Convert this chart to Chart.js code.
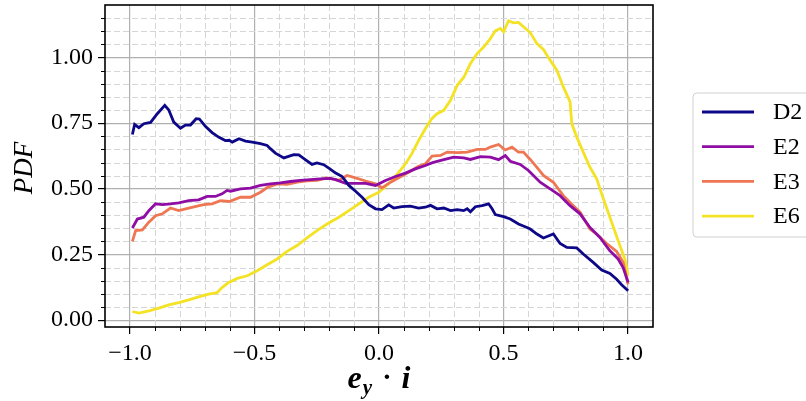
<!DOCTYPE html>
<html>
<head>
<meta charset="utf-8">
<script src="https://cdn.jsdelivr.net/npm/chart.js@4/dist/chart.umd.min.js"></script>
<style>
  html, body { margin: 0; padding: 0; background: #fff; }
</style>
</head>
<body>
<canvas id="myChart" width="806" height="401"></canvas>
<script>
// values (x = e_y . i, y = PDF)
var d2X = [-0.99,-0.981,-0.964,-0.944,-0.917,-0.89,-0.86,-0.844,-0.824,-0.797,-0.777,-0.757,-0.734,-0.721,-0.697,-0.67,-0.644,-0.617,-0.601,-0.589,-0.562,-0.536,-0.509,-0.476,-0.449,-0.436,-0.416,-0.382,-0.342,-0.322,-0.296,-0.269,-0.249,-0.222,-0.2,-0.174,-0.148,-0.121,-0.094,-0.068,-0.041,-0.014,0.012,0.039,0.059,0.092,0.126,0.159,0.186,0.207,0.233,0.26,0.287,0.314,0.34,0.354,0.367,0.387,0.414,0.44,0.454,0.467,0.5,0.527,0.56,0.594,0.607,0.634,0.66,0.7,0.727,0.754,0.794,0.82,0.86,0.894,0.927,0.954,0.974,1.0];
var d2Y = [0.707,0.745,0.733,0.748,0.753,0.786,0.818,0.80,0.754,0.731,0.743,0.743,0.767,0.766,0.738,0.714,0.697,0.684,0.685,0.678,0.691,0.682,0.678,0.672,0.665,0.653,0.636,0.618,0.63,0.629,0.611,0.593,0.599,0.592,0.578,0.56,0.547,0.513,0.491,0.468,0.44,0.424,0.421,0.439,0.427,0.432,0.434,0.427,0.43,0.437,0.424,0.427,0.417,0.421,0.417,0.424,0.413,0.432,0.436,0.443,0.424,0.402,0.394,0.385,0.366,0.353,0.347,0.328,0.313,0.328,0.292,0.277,0.275,0.252,0.22,0.191,0.178,0.156,0.135,0.112];

var e2X = [-0.99,-0.97,-0.944,-0.924,-0.897,-0.87,-0.837,-0.804,-0.764,-0.724,-0.69,-0.657,-0.63,-0.61,-0.596,-0.556,-0.516,-0.476,-0.436,-0.396,-0.356,-0.316,-0.276,-0.236,-0.196,-0.174,-0.134,-0.094,-0.054,-0.014,0.026,0.066,0.106,0.146,0.186,0.215,0.26,0.3,0.34,0.367,0.407,0.447,0.48,0.507,0.527,0.567,0.6,0.647,0.687,0.727,0.767,0.807,0.847,0.887,0.927,0.96,0.98,1.0];
var e2Y = [0.351,0.385,0.392,0.417,0.443,0.44,0.443,0.447,0.455,0.458,0.471,0.471,0.481,0.494,0.491,0.5,0.503,0.513,0.519,0.523,0.528,0.532,0.535,0.538,0.54,0.535,0.521,0.521,0.521,0.513,0.532,0.547,0.56,0.576,0.589,0.60,0.611,0.621,0.618,0.612,0.623,0.621,0.611,0.627,0.605,0.593,0.57,0.525,0.5,0.474,0.436,0.405,0.353,0.315,0.264,0.233,0.2,0.144];

var e3X = [-0.99,-0.977,-0.95,-0.924,-0.897,-0.87,-0.837,-0.804,-0.764,-0.73,-0.704,-0.67,-0.637,-0.601,-0.556,-0.516,-0.476,-0.449,-0.409,-0.369,-0.329,-0.289,-0.249,-0.209,-0.188,-0.161,-0.128,-0.094,-0.054,-0.014,0.012,0.039,0.079,0.119,0.159,0.186,0.213,0.247,0.274,0.314,0.354,0.394,0.427,0.447,0.48,0.507,0.534,0.56,0.58,0.607,0.634,0.66,0.7,0.74,0.78,0.807,0.847,0.874,0.914,0.954,0.98,1.0];
var e3Y = [0.30,0.341,0.344,0.373,0.398,0.405,0.427,0.417,0.427,0.434,0.44,0.443,0.455,0.452,0.468,0.468,0.487,0.505,0.519,0.517,0.526,0.53,0.532,0.542,0.538,0.532,0.551,0.542,0.53,0.519,0.504,0.521,0.542,0.563,0.586,0.595,0.625,0.627,0.64,0.638,0.64,0.65,0.65,0.659,0.669,0.648,0.659,0.64,0.64,0.612,0.582,0.551,0.525,0.474,0.436,0.411,0.347,0.328,0.292,0.262,0.22,0.137];

var e6X = [-0.99,-0.964,-0.924,-0.884,-0.844,-0.804,-0.764,-0.724,-0.684,-0.65,-0.63,-0.605,-0.569,-0.529,-0.489,-0.449,-0.409,-0.369,-0.329,-0.289,-0.249,-0.209,-0.161,-0.121,-0.081,-0.041,-0.001,0.026,0.052,0.079,0.106,0.132,0.159,0.186,0.21,0.233,0.26,0.287,0.314,0.34,0.367,0.394,0.42,0.447,0.467,0.487,0.5,0.52,0.54,0.56,0.58,0.607,0.634,0.66,0.687,0.714,0.74,0.767,0.774,0.794,0.82,0.847,0.874,0.894,0.927,0.96,0.987,1.0];
var e6Y = [0.033,0.027,0.035,0.046,0.058,0.067,0.077,0.089,0.099,0.105,0.124,0.143,0.159,0.169,0.188,0.211,0.233,0.262,0.284,0.313,0.341,0.366,0.392,0.417,0.443,0.468,0.487,0.509,0.532,0.563,0.595,0.634,0.684,0.729,0.765,0.786,0.799,0.837,0.894,0.924,0.977,1.015,1.04,1.072,1.102,1.111,1.098,1.14,1.132,1.134,1.117,1.095,1.053,1.031,0.99,0.952,0.888,0.831,0.748,0.697,0.64,0.582,0.538,0.481,0.392,0.303,0.233,0.17];

var seriesNames = ['D2', 'E2', 'E3', 'E6'];
var seriesColors = ['#0d0887', '#8f0da4', '#ee7652', '#f4e225'];

var FONT = "'Liberation Serif', 'DejaVu Serif', serif";

function toPoints(xs, ys) {
    return xs.map(function (x, i) { return { x: x, y: ys[i] }; });
}
var allX = [d2X, e2X, e3X, e6X];
var allY = [d2Y, e2Y, e3Y, e6Y];

var datasets = seriesNames.map(function (name, i) {
    return {
        label: name,
        data: toPoints(allX[i], allY[i]),
        borderColor: seriesColors[i],
        backgroundColor: seriesColors[i],
        borderWidth: 2.8,
        pointRadius: 0,
        tension: 0
    };
});

function fmtX(v) {
    var s = Math.abs(v).toFixed(1);
    return (v < -1e-9 ? '\u2212' : '') + s;
}

// minor grid (dashed), minor ticks, frame, titles and legend box
var decor = {
    id: 'decor',
    beforeDatasetsDraw: function (chart) {
        var ctx = chart.ctx, a = chart.chartArea;
        var xs = chart.scales.x, ys = chart.scales.y;
        ctx.save();
        ctx.strokeStyle = '#d6d6d6';
        ctx.lineWidth = 1;
        ctx.setLineDash([6, 3]);
        for (var k = -10; k <= 10; k++) {
            if (k % 5 === 0) continue;
            var px = Math.round(xs.getPixelForValue(k / 10)) + 0.5;
            ctx.beginPath(); ctx.moveTo(px, a.top); ctx.lineTo(px, a.bottom); ctx.stroke();
        }
        for (var j = 1; j <= 23; j++) {
            if (j % 5 === 0) continue;
            var py = Math.round(ys.getPixelForValue(j / 20)) + 0.5;
            ctx.beginPath(); ctx.moveTo(a.left, py); ctx.lineTo(a.right, py); ctx.stroke();
        }
        ctx.restore();
    },
    afterDatasetsDraw: function (chart) {
        var ctx = chart.ctx, a = chart.chartArea;
        var xs = chart.scales.x, ys = chart.scales.y;
        ctx.save();
        // minor ticks
        ctx.strokeStyle = '#000';
        ctx.lineWidth = 1;
        for (var k = -10; k <= 10; k++) {
            if (k % 5 === 0) continue;
            var px = Math.round(xs.getPixelForValue(k / 10)) + 0.5;
            ctx.beginPath(); ctx.moveTo(px, a.bottom); ctx.lineTo(px, a.bottom + 4); ctx.stroke();
        }
        for (var j = 1; j <= 23; j++) {
            if (j % 5 === 0) continue;
            var py = Math.round(ys.getPixelForValue(j / 20)) + 0.5;
            ctx.beginPath(); ctx.moveTo(a.left, py); ctx.lineTo(a.left - 4, py); ctx.stroke();
        }
        // frame
        ctx.lineWidth = 1.6;
        ctx.strokeRect(a.left, a.top, a.right - a.left, a.bottom - a.top);
        ctx.restore();
    },
    afterDraw: function (chart) {
        var ctx = chart.ctx;
        ctx.save();
        ctx.fillStyle = '#000';
        // y title
        ctx.save();
        ctx.translate(25, 168);
        ctx.rotate(-Math.PI / 2);
        ctx.font = 'italic 27px ' + FONT;
        ctx.textAlign = 'center';
        ctx.textBaseline = 'middle';
        ctx.fillText('PDF', 0, 0);
        ctx.restore();

        // x title: e_y . i
        var fMain = 'italic bold 32px ' + FONT;
        var fSub = 'italic bold 21px ' + FONT;
        var fDot = 'bold 28px ' + FONT;
        var parts = [
            { t: 'e', f: fMain, dy: 0, gap: 1 },
            { t: 'y', f: fSub, dy: 6, gap: 10 },
            { t: '\u00b7', f: fDot, dy: -2, gap: 10 },
            { t: 'i', f: fMain, dy: 0, gap: 0 }
        ];
        var total = 0;
        parts.forEach(function (p) { ctx.font = p.f; p.w = ctx.measureText(p.t).width; total += p.w + p.gap; });
        var cx = (chart.chartArea.left + chart.chartArea.right) / 2 - total / 2;
        ctx.textBaseline = 'alphabetic';
        ctx.textAlign = 'left';
        parts.forEach(function (p) { ctx.font = p.f; ctx.fillText(p.t, cx, 388 + p.dy); cx += p.w + p.gap; });

        // legend
        var bx = 693, by = 93, bw = 130, bh = 144, r = 4;
        ctx.beginPath();
        ctx.moveTo(bx + r, by);
        ctx.lineTo(bx + bw - r, by);
        ctx.arcTo(bx + bw, by, bx + bw, by + r, r);
        ctx.lineTo(bx + bw, by + bh - r);
        ctx.arcTo(bx + bw, by + bh, bx + bw - r, by + bh, r);
        ctx.lineTo(bx + r, by + bh);
        ctx.arcTo(bx, by + bh, bx, by + bh - r, r);
        ctx.lineTo(bx, by + r);
        ctx.arcTo(bx, by, bx + r, by, r);
        ctx.closePath();
        ctx.fillStyle = 'rgba(255,255,255,0.85)';
        ctx.fill();
        ctx.strokeStyle = '#d0d0d0';
        ctx.lineWidth = 1;
        ctx.stroke();

        ctx.font = '24px ' + FONT;
        ctx.textBaseline = 'middle';
        chart.data.datasets.forEach(function (ds, i) {
            var ry = 112 + i * 34.7;
            ctx.strokeStyle = ds.borderColor;
            ctx.lineWidth = 2.8;
            ctx.beginPath(); ctx.moveTo(702, ry); ctx.lineTo(754, ry); ctx.stroke();
            ctx.fillStyle = '#000';
            ctx.fillText(ds.label, 773, ry + 1);
        });
        ctx.restore();
    }
};

function noEdgePad(s) {
    s.paddingTop = 0; s.paddingBottom = 0; s.paddingLeft = 0; s.paddingRight = 0;
}

var ctx = document.getElementById('myChart').getContext('2d');
var chart = new Chart(ctx, {
    type: 'line',
    data: { datasets: datasets },
    plugins: [decor],
    options: {
        responsive: false,
        animation: false,
        devicePixelRatio: 1,
        layout: { padding: { left: 0, top: 5, right: 153, bottom: 0 } },
        plugins: { legend: { display: false }, tooltip: { enabled: false } },
        scales: {
            x: {
                type: 'linear',
                min: -1.1,
                max: 1.1,
                afterFit: function (s) { s.height = 74; noEdgePad(s); },
                border: { display: false },
                grid: { color: '#b0b0b0', lineWidth: 1.2, tickColor: '#000', tickLength: 7, tickWidth: 1.2 },
                ticks: {
                    stepSize: 0.5,
                    includeBounds: false,
                    maxRotation: 0,
                    padding: 5,
                    color: '#000',
                    font: { family: FONT, size: 24 },
                    callback: function (v) { return fmtX(v); }
                }
            },
            y: {
                type: 'linear',
                min: -0.026,
                max: 1.2,
                afterFit: function (s) { s.width = 105; noEdgePad(s); },
                border: { display: false },
                grid: { color: '#b0b0b0', lineWidth: 1.2, tickColor: '#000', tickLength: 7, tickWidth: 1.2 },
                ticks: {
                    stepSize: 0.25,
                    includeBounds: false,
                    padding: 5,
                    color: '#000',
                    font: { family: FONT, size: 24 },
                    callback: function (v) { return v.toFixed(2); }
                }
            }
        }
    }
});
</script>
</body>
</html>
